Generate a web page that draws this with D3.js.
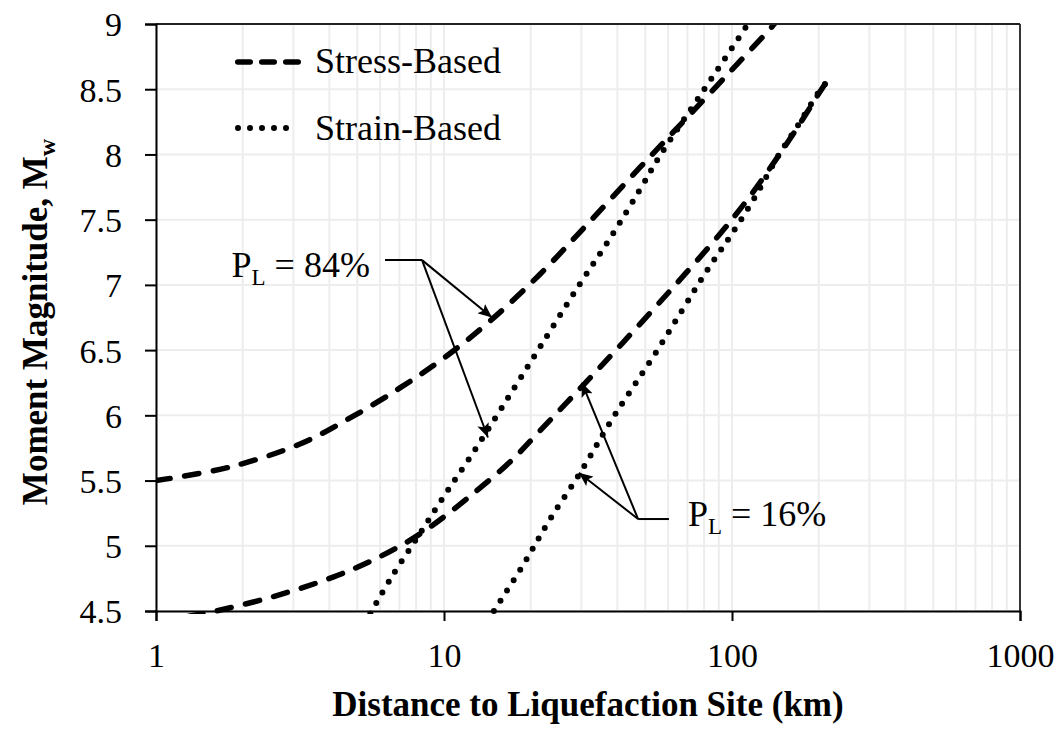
<!DOCTYPE html>
<html>
<head>
<meta charset="utf-8">
<script src="https://cdn.jsdelivr.net/npm/d3@7/dist/d3.min.js"></script>
<style>
  html, body { margin: 0; padding: 0; background: #fff; }
  svg { display: block; }
  text { font-family: "Liberation Serif", "Times New Roman", serif; fill: #000; }
</style>
</head>
<body>
<svg id="chart" width="1061" height="734"></svg>
<script>
// ---- data (distance km, moment magnitude) ----
const stress84 = [[1,5.50],[1.78,5.60],[3.16,5.78],[4.72,5.98],[7.03,6.21],[10,6.44],[14.4,6.72],[21.5,7.08],[31.6,7.47],[47.9,7.90],[63.1,8.18],[100,8.65],[139,8.99],[146,9.05]];
const stress16 = [[1.3,4.46],[1.54,4.49],[2.55,4.61],[4.12,4.76],[5.66,4.89],[7.45,5.03],[9.16,5.16],[12.0,5.36],[16.9,5.64],[21.5,5.88],[30.4,6.23],[41.9,6.56],[62.4,6.98],[90.8,7.39],[115.5,7.68],[143,7.97],[168,8.20],[202,8.48],[215,8.57]];
const strain84 = [[5.55,4.48],[6.49,4.74],[8.06,5.06],[9.93,5.37],[12.5,5.70],[16.0,6.07],[21.5,6.52],[29.7,7.01],[38.3,7.38],[47.9,7.73],[56.2,7.99],[77.4,8.45],[112.8,8.99],[118,9.06]];
const strain16 = [[14.9,4.50],[18.8,4.85],[23.0,5.18],[30.1,5.58],[38.6,5.98],[54.0,6.47],[81.9,7.11],[98.4,7.37],[120,7.67],[143,7.97],[168,8.21],[202,8.49],[218,8.58]];

const xTicks = [1, 10, 100, 1000];
const xTickLabels = ["1", "10", "100", "1000"];
const yTicks = [4.5, 5, 5.5, 6, 6.5, 7, 7.5, 8, 8.5, 9];
const yTickLabels = ["4.5", "5", "5.5", "6", "6.5", "7", "7.5", "8", "8.5", "9"];
const legendLabels = ["Stress-Based", "Strain-Based"];
const xTitle = "Distance to Liquefaction Site (km)";
const yTitle = "Moment Magnitude, M";
const yTitleSub = "w";

// annotations in data units: label anchor, elbow, horizontal end, arrow tips
const ann84 = { label: "84%", text: [5.53, 7.06], hStart: [6.24, 7.19], elbow: [8.39, 7.19], tips: [[14.68, 6.75], [14.21, 5.83]] };
const ann16 = { label: "16%", text: [70.3, 5.15], hStart: [60.4, 5.205], elbow: [47.2, 5.205], tips: [[29.4, 5.56], [30.1, 6.25]] };

// ---- layout ----
const L = 156, R = 1020, T = 24, B = 611;
const svg = d3.select("#chart");
const x = d3.scaleLog().domain([1, 1000]).range([L, R]);
const y = d3.scaleLinear().domain([4.5, 9]).range([B, T]);

// grid
const minor = [];
for (let e = 0; e < 3; e++) for (let k = 1; k <= 10; k++) minor.push(k * Math.pow(10, e));
const grid = svg.append("g");
grid.selectAll("line.gx").data(minor).enter().append("line")
  .attr("x1", d => x(d)).attr("x2", d => x(d)).attr("y1", T).attr("y2", B)
  .attr("stroke", "#ededed").attr("stroke-width", 2);
grid.selectAll("line.gy").data(yTicks).enter().append("line")
  .attr("x1", L).attr("x2", R).attr("y1", d => y(d)).attr("y2", d => y(d))
  .attr("stroke", "#ededed").attr("stroke-width", 2);

// clip
svg.append("clipPath").attr("id", "clip").append("rect")
  .attr("x", L).attr("y", T).attr("width", R - L).attr("height", B - T + 3);

const line = d3.line().x(d => x(d[0])).y(d => y(d[1])).curve(d3.curveCatmullRom.alpha(0.5));
const curves = svg.append("g").attr("clip-path", "url(#clip)");
function dashed(data) {
  curves.append("path").datum(data).attr("d", line).attr("fill", "none")
    .attr("stroke", "#000").attr("stroke-width", 5.5).attr("stroke-linecap", "round")
    .attr("stroke-dasharray", "14.5 14.5");
}
function dotted(data) {
  curves.append("path").datum(data).attr("d", line).attr("fill", "none")
    .attr("stroke", "#000").attr("stroke-width", 6).attr("stroke-linecap", "round")
    .attr("stroke-dasharray", "0 12.2");
}
dashed(stress84); dashed(stress16);
dotted(strain84); dotted(strain16);

// axes frame
svg.append("line").attr("x1", L).attr("x2", R).attr("y1", T).attr("y2", T).attr("stroke", "#222").attr("stroke-width", 1.8);
svg.append("line").attr("x1", R).attr("x2", R).attr("y1", T).attr("y2", B).attr("stroke", "#222").attr("stroke-width", 1.8);

const yAxis = d3.axisLeft(y).tickValues(yTicks).tickSize(11).tickFormat((d, i) => yTickLabels[i]);
const gy = svg.append("g").attr("transform", `translate(${L},0)`).call(yAxis);
gy.select(".domain").attr("stroke", "#000").attr("stroke-width", 2);
gy.selectAll(".tick line").attr("stroke", "#000").attr("stroke-width", 2);
gy.selectAll(".tick text").attr("x", -34).attr("dy", "0.35em")
  .style("font-family", "'Liberation Serif', serif").style("font-size", "34px");

const xAxis = d3.axisBottom(x).tickValues(xTicks).tickSize(10).tickFormat((d, i) => xTickLabels[i]);
const gx = svg.append("g").attr("transform", `translate(0,${B})`).call(xAxis);
gx.select(".domain").attr("stroke", "#000").attr("stroke-width", 2);
gx.selectAll(".tick line").attr("stroke", "#000").attr("stroke-width", 2);
gx.selectAll(".tick text").attr("y", 56).attr("dy", 0)
  .style("font-family", "'Liberation Serif', serif").style("font-size", "34px");

// titles
svg.append("text").attr("x", (L + R) / 2).attr("y", 716).attr("text-anchor", "middle")
  .style("font-size", "35px").style("font-weight", "bold").text(xTitle);
const yt = svg.append("text").attr("transform", "translate(47,322) rotate(-90)")
  .attr("text-anchor", "middle").style("font-size", "35px").style("font-weight", "bold");
yt.append("tspan").text(yTitle);
yt.append("tspan").attr("dy", 8).style("font-size", "24px").text(yTitleSub);

// legend
const lg = svg.append("g");
lg.append("line").attr("x1", 237.75).attr("x2", 299.25).attr("y1", 62).attr("y2", 62)
  .attr("stroke", "#000").attr("stroke-width", 5.5).attr("stroke-linecap", "round").attr("stroke-dasharray", "12.5 11.5");
lg.append("line").attr("x1", 238).attr("x2", 298).attr("y1", 128).attr("y2", 128)
  .attr("stroke", "#000").attr("stroke-width", 6).attr("stroke-linecap", "round").attr("stroke-dasharray", "0 12");
lg.append("text").attr("x", 315).attr("y", 73).style("font-size", "36px").text(legendLabels[0]);
lg.append("text").attr("x", 315).attr("y", 140).style("font-size", "36px").text(legendLabels[1]);

// arrow marker
svg.append("defs").append("marker").attr("id", "arrow")
  .attr("viewBox", "0 0 14 12").attr("refX", 14).attr("refY", 6)
  .attr("markerWidth", 14).attr("markerHeight", 12).attr("markerUnits", "userSpaceOnUse")
  .attr("orient", "auto")
  .append("path").attr("d", "M0,0 L14,6 L0,12 L3,6 Z").attr("fill", "#000");

function annotate(a, anchor) {
  const g = svg.append("g");
  g.append("line").attr("x1", x(a.hStart[0])).attr("x2", x(a.elbow[0]))
    .attr("y1", y(a.hStart[1])).attr("y2", y(a.elbow[1])).attr("stroke", "#000").attr("stroke-width", 2);
  a.tips.forEach(t => {
    g.append("line").attr("x1", x(a.elbow[0])).attr("y1", y(a.elbow[1]))
      .attr("x2", x(t[0])).attr("y2", y(t[1])).attr("stroke", "#000").attr("stroke-width", 2)
      .attr("marker-end", "url(#arrow)");
  });
  const t = g.append("text").attr("x", x(a.text[0])).attr("y", y(a.text[1]))
    .attr("text-anchor", anchor).style("font-size", "36px");
  t.append("tspan").text("P");
  t.append("tspan").attr("dy", 8).style("font-size", "23px").text("L");
  t.append("tspan").attr("dy", -8).text(" = " + a.label);
}
annotate(ann84, "end");
annotate(ann16, "start");
</script>
</body>
</html>
